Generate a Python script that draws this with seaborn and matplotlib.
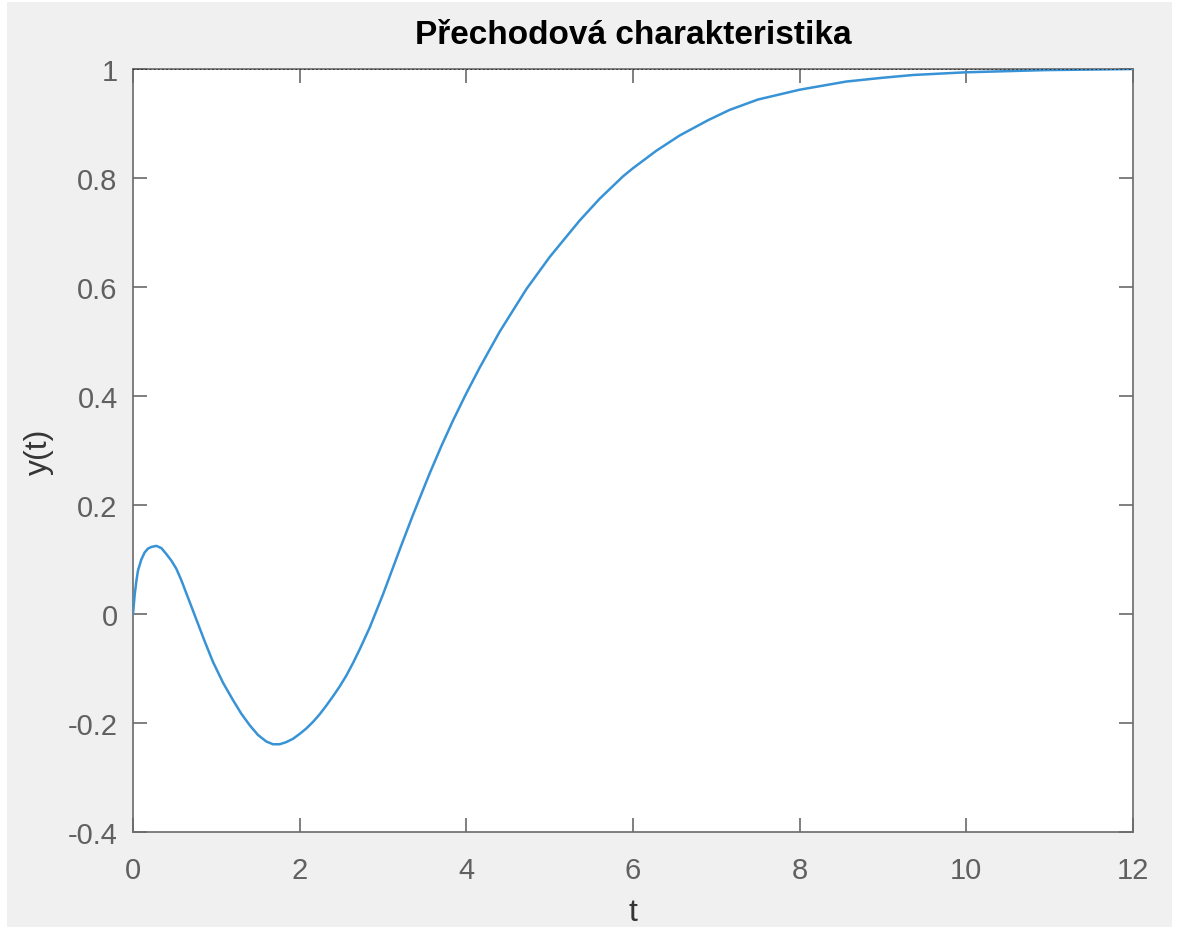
import numpy as np
import pandas as pd
import matplotlib
matplotlib.use("Agg")
import matplotlib.pyplot as plt
from matplotlib.patches import Rectangle
import seaborn as sns

t_vals = [0.0, 0.02, 0.04, 0.06, 0.1, 0.14, 0.18, 0.22, 0.28, 0.34, 0.4, 0.46,
          0.52, 0.58, 0.64, 0.7, 0.76, 0.86, 0.96, 1.08, 1.2, 1.3, 1.4, 1.5,
          1.6, 1.68, 1.76, 1.84, 1.92, 2.0, 2.08, 2.16, 2.24, 2.32, 2.4, 2.48,
          2.56, 2.64, 2.72, 2.84, 3.0, 3.2, 3.36, 3.56, 3.7, 3.84, 4.0, 4.16,
          4.4, 4.72, 5.0, 5.36, 5.6, 5.88, 6.0, 6.28, 6.56, 6.9, 7.16, 7.5,
          8.0, 8.56, 9.0, 9.36, 10.0, 10.96, 11.5, 12.0]
y_vals = [0.0, 0.035, 0.06, 0.08, 0.100, 0.113, 0.120, 0.123, 0.125, 0.121,
          0.110, 0.098, 0.083, 0.062, 0.038, 0.014, -0.010, -0.050, -0.088,
          -0.126, -0.158, -0.183, -0.204, -0.222, -0.234, -0.239, -0.239,
          -0.235, -0.229, -0.220, -0.210, -0.198, -0.184, -0.168, -0.151,
          -0.133, -0.113, -0.090, -0.065, -0.025, 0.036, 0.118, 0.182, 0.258,
          0.308, 0.355, 0.405, 0.452, 0.518, 0.596, 0.655, 0.722, 0.762, 0.803,
          0.818, 0.850, 0.878, 0.906, 0.925, 0.944, 0.962, 0.977, 0.984, 0.989,
          0.994, 0.998, 0.999, 1.0]
steady_value = 1.0
x_ticks = [0, 2, 4, 6, 8, 10, 12]
y_ticks = [-0.4, -0.2, 0, 0.2, 0.4, 0.6, 0.8, 1]
y_tick_labels = ["-0.4", "-0.2", "0", "0.2", "0.4", "0.6", "0.8", "1"]
title = "Přechodová charakteristika"
xlabel = "t"
ylabel = "y(t)"

df = pd.DataFrame({"t": t_vals, "y": y_vals})

sns.set_style("white")
plt.rcParams['font.family'] = ['Liberation Sans', 'DejaVu Sans']

fig = plt.figure(figsize=(11.77, 9.28), dpi=100, facecolor="white")
fig.patches.append(Rectangle((7 / 1177, 0), (1172 - 7) / 1177, (928 - 3) / 928,
                             transform=fig.transFigure, facecolor="#f0f0f0",
                             edgecolor="none", zorder=-10))
ax = fig.add_axes([133 / 1177, 1 - 833 / 928, 1000 / 1177, 763 / 928])
ax.set_facecolor("white")

sns.lineplot(data=df, x="t", y="y", ax=ax, color="#3893d6", linewidth=1.8,
             zorder=3)
ax.axhline(steady_value, color="#222222", linestyle=(0, (1, 1.5)), linewidth=1.2,
           zorder=4)

ax.set_xlim(0, 12)
ax.set_ylim(-0.4, 1)
ax.set_xticks(x_ticks)
ax.set_xticklabels([str(v) for v in x_ticks])
ax.set_yticks(y_ticks)
ax.set_yticklabels(y_tick_labels)

tick_col = "#606060"
for s in ax.spines.values():
    s.set_visible(True)
    s.set_color("#6a6a6a")
    s.set_linewidth(1.2)
ax.tick_params(direction="in", length=10, width=1.2, colors="#6a6a6a",
               labelcolor=tick_col, labelsize=21, top=True, right=True,
               left=True, bottom=True)
ax.tick_params(axis="x", pad=17)
ax.tick_params(axis="y", pad=11)

ax.set_title(title, fontsize=24, fontweight="bold", color="black", pad=19)
ax.set_xlabel(xlabel, fontsize=23, color="#353535", labelpad=10)
ax.set_ylabel(ylabel, fontsize=23, color="#353535", labelpad=10)

fig.savefig("out.png", dpi=100, facecolor=fig.get_facecolor())
